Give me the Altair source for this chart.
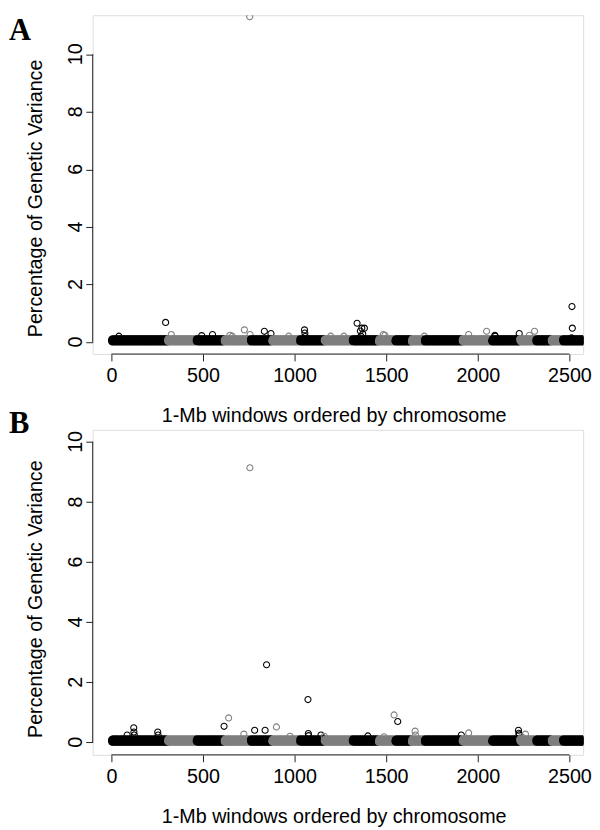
import altair as alt
import pandas as pd

# chromosome segment ends (window index), colours alternate black / gray
SEG_ENDS = [306, 462, 615, 758, 875, 1027, 1161, 1314, 1457, 1547,
            1637, 1708, 1914, 2075, 2228, 2316, 2400, 2462, 2606]
SEG_COLORS = ["black", "gray"]
# typical read levels of the dense band near zero
BAND_LEVELS = [0.03, 0.07, 0.01, 0.10, 0.04, 0.08, 0.00, 0.06, 0.02, 0.11, 0.05, 0.09]

# panel A: windows/values standing out from the band
A_OUT_W = [41, 296, 327, 493, 552, 647, 660, 726, 755, 757, 835, 871, 968,
           1054, 1056, 1058, 1197, 1269, 1341, 1359, 1362, 1367, 1372, 1381,
           1484, 1493, 1708, 1950, 2048, 2093, 2095, 2226, 2282, 2310,
           2512, 2514, 2516]
A_OUT_V = [0.20, 0.68, 0.26, 0.22, 0.26, 0.23, 0.20, 0.42, 11.31, 0.26, 0.37, 0.29, 0.20,
           0.42, 0.31, 0.19, 0.20, 0.20, 0.65, 0.38, 0.20, 0.48, 0.28, 0.48,
           0.26, 0.23, 0.20, 0.26, 0.37, 0.23, 0.20, 0.29, 0.23, 0.37,
           0.14, 1.23, 0.48]

# panel B
B_OUT_W = [86, 122, 123, 125, 253, 255, 615, 640, 723, 756, 782, 839, 847,
           901, 975, 1073, 1075, 1077, 1144, 1162, 1400, 1488, 1543, 1563,
           1658, 1660, 1910, 1950, 2222, 2224, 2226, 2240, 2260]
B_OUT_V = [0.24, 0.48, 0.34, 0.24, 0.34, 0.24, 0.53, 0.81, 0.27, 9.14, 0.40, 0.40, 2.58,
           0.51, 0.20, 1.42, 0.29, 0.22, 0.24, 0.20, 0.21, 0.18, 0.91, 0.69,
           0.37, 0.24, 0.24, 0.31, 0.40, 0.30, 0.25, 0.18, 0.27]

X_TICKS = [0, 500, 1000, 1500, 2000, 2500]
Y_TICKS = [0, 2, 4, 6, 8, 10]
X_TITLE = "1-Mb windows ordered by chromosome"
Y_TITLE = "Percentage of Genetic Variance"

FONT = "Liberation Sans"
AXIS_COL = "#222222"


def seg_color(w):
    for k, e in enumerate(SEG_ENDS):
        if w <= e:
            return SEG_COLORS[k % 2]
    return SEG_COLORS[(len(SEG_ENDS) - 1) % 2]


def make_df(out_w, out_v):
    rows = []
    start = 0
    for k, end in enumerate(SEG_ENDS):
        for w in range(start + 1, end + 1):
            rows.append((w, BAND_LEVELS[w % len(BAND_LEVELS)], SEG_COLORS[k % 2]))
        start = end
    for w, v in zip(out_w, out_v):
        rows.append((w, v, seg_color(w)))
    df = pd.DataFrame(rows, columns=["window", "pct", "chrom"])
    return df.sort_values("window", kind="stable").reset_index(drop=True)


def panel(df, letter, ydom, height, letter_y, ytitle_y, xtitle_y):
    width = 498
    xscale = alt.Scale(domain=[-102, 2575], nice=False, zero=False)
    yscale = alt.Scale(domain=ydom, nice=False, zero=False)
    xaxis = alt.Axis(values=X_TICKS, format="d", domain=False, grid=False, tickSize=7,
                     tickColor=AXIS_COL, tickWidth=1, labelFontSize=20, labelFont=FONT,
                     labelColor="black", labelPadding=5, labelFlush=False,
                     labelOverlap=False, title=X_TITLE, titleFontSize=20,
                     titleFont=FONT, titleFontWeight="normal", titleColor="black",
                     titleX=244.7, titleY=xtitle_y, titleAlign="center",
                     titleBaseline="alphabetic")
    yaxis = alt.Axis(values=Y_TICKS, domain=False, grid=False, tickSize=7,
                     tickColor=AXIS_COL, tickWidth=1, labels=False,
                     title=Y_TITLE, titleFontSize=20,
                     titleFont=FONT, titleFontWeight="normal", titleColor="black",
                     titleAngle=270, titleX=-57.6, titleY=ytitle_y,
                     titleAlign="center", titleBaseline="middle")
    one = pd.DataFrame({"k": [0]})
    ticks_df = pd.DataFrame({"tick": Y_TICKS})

    pts = alt.Chart(df).mark_point(shape="circle", filled=False, size=38,
                                   strokeWidth=1.1, opacity=1, clip=True).encode(
        x=alt.X("window:Q", scale=xscale, axis=xaxis),
        y=alt.Y("pct:Q", scale=yscale, axis=yaxis),
        color=alt.Color("chrom:N", scale=alt.Scale(domain=SEG_COLORS,
                                                   range=["#000000", "#7f7f7f"]),
                        legend=None),
    )
    yrule = alt.Chart(one).mark_rule(color=AXIS_COL, strokeWidth=1).encode(
        x=alt.value(0),
        y=alt.YDatum(0, scale=yscale, axis=yaxis),
        y2=alt.Y2Datum(10),
    )
    xrule = alt.Chart(one).mark_rule(color=AXIS_COL, strokeWidth=1).encode(
        x=alt.XDatum(0, scale=xscale, axis=xaxis),
        x2=alt.X2Datum(2500),
        y=alt.value(height),
    )
    ylabels = alt.Chart(ticks_df).mark_text(
        angle=270, align="center", baseline="bottom", fontSize=20, font=FONT,
        color="black").encode(
        x=alt.value(-7.3),
        y=alt.Y("tick:Q", scale=yscale, axis=yaxis),
        text=alt.Text("tick:Q", format="d"),
    )
    lab = alt.Chart(one).mark_text(text=letter, font="Liberation Serif",
                                   fontWeight="bold", fontSize=31, align="left",
                                   baseline="middle", color="black").encode(
        x=alt.value(-85), y=alt.value(letter_y))
    return alt.layer(pts, yrule, xrule, ylabels, lab).properties(width=width, height=height)


dfA = make_df(A_OUT_W, A_OUT_V)
dfB = make_df(B_OUT_W, B_OUT_V)

chartA = panel(dfA, "A", [-0.42, 11.36], 344, 16, 185.5, 69)
chartB = panel(dfB, "B", [-0.42, 10.4], 330, -6.3, 171.4, 69)

chart = alt.vconcat(chartA, chartB, spacing=77, bounds="flush").properties(
    padding=0
).configure_view(stroke=None).configure(background="white")

chart.save("out.html", embed_options={"renderer": "svg", "actions": False})
